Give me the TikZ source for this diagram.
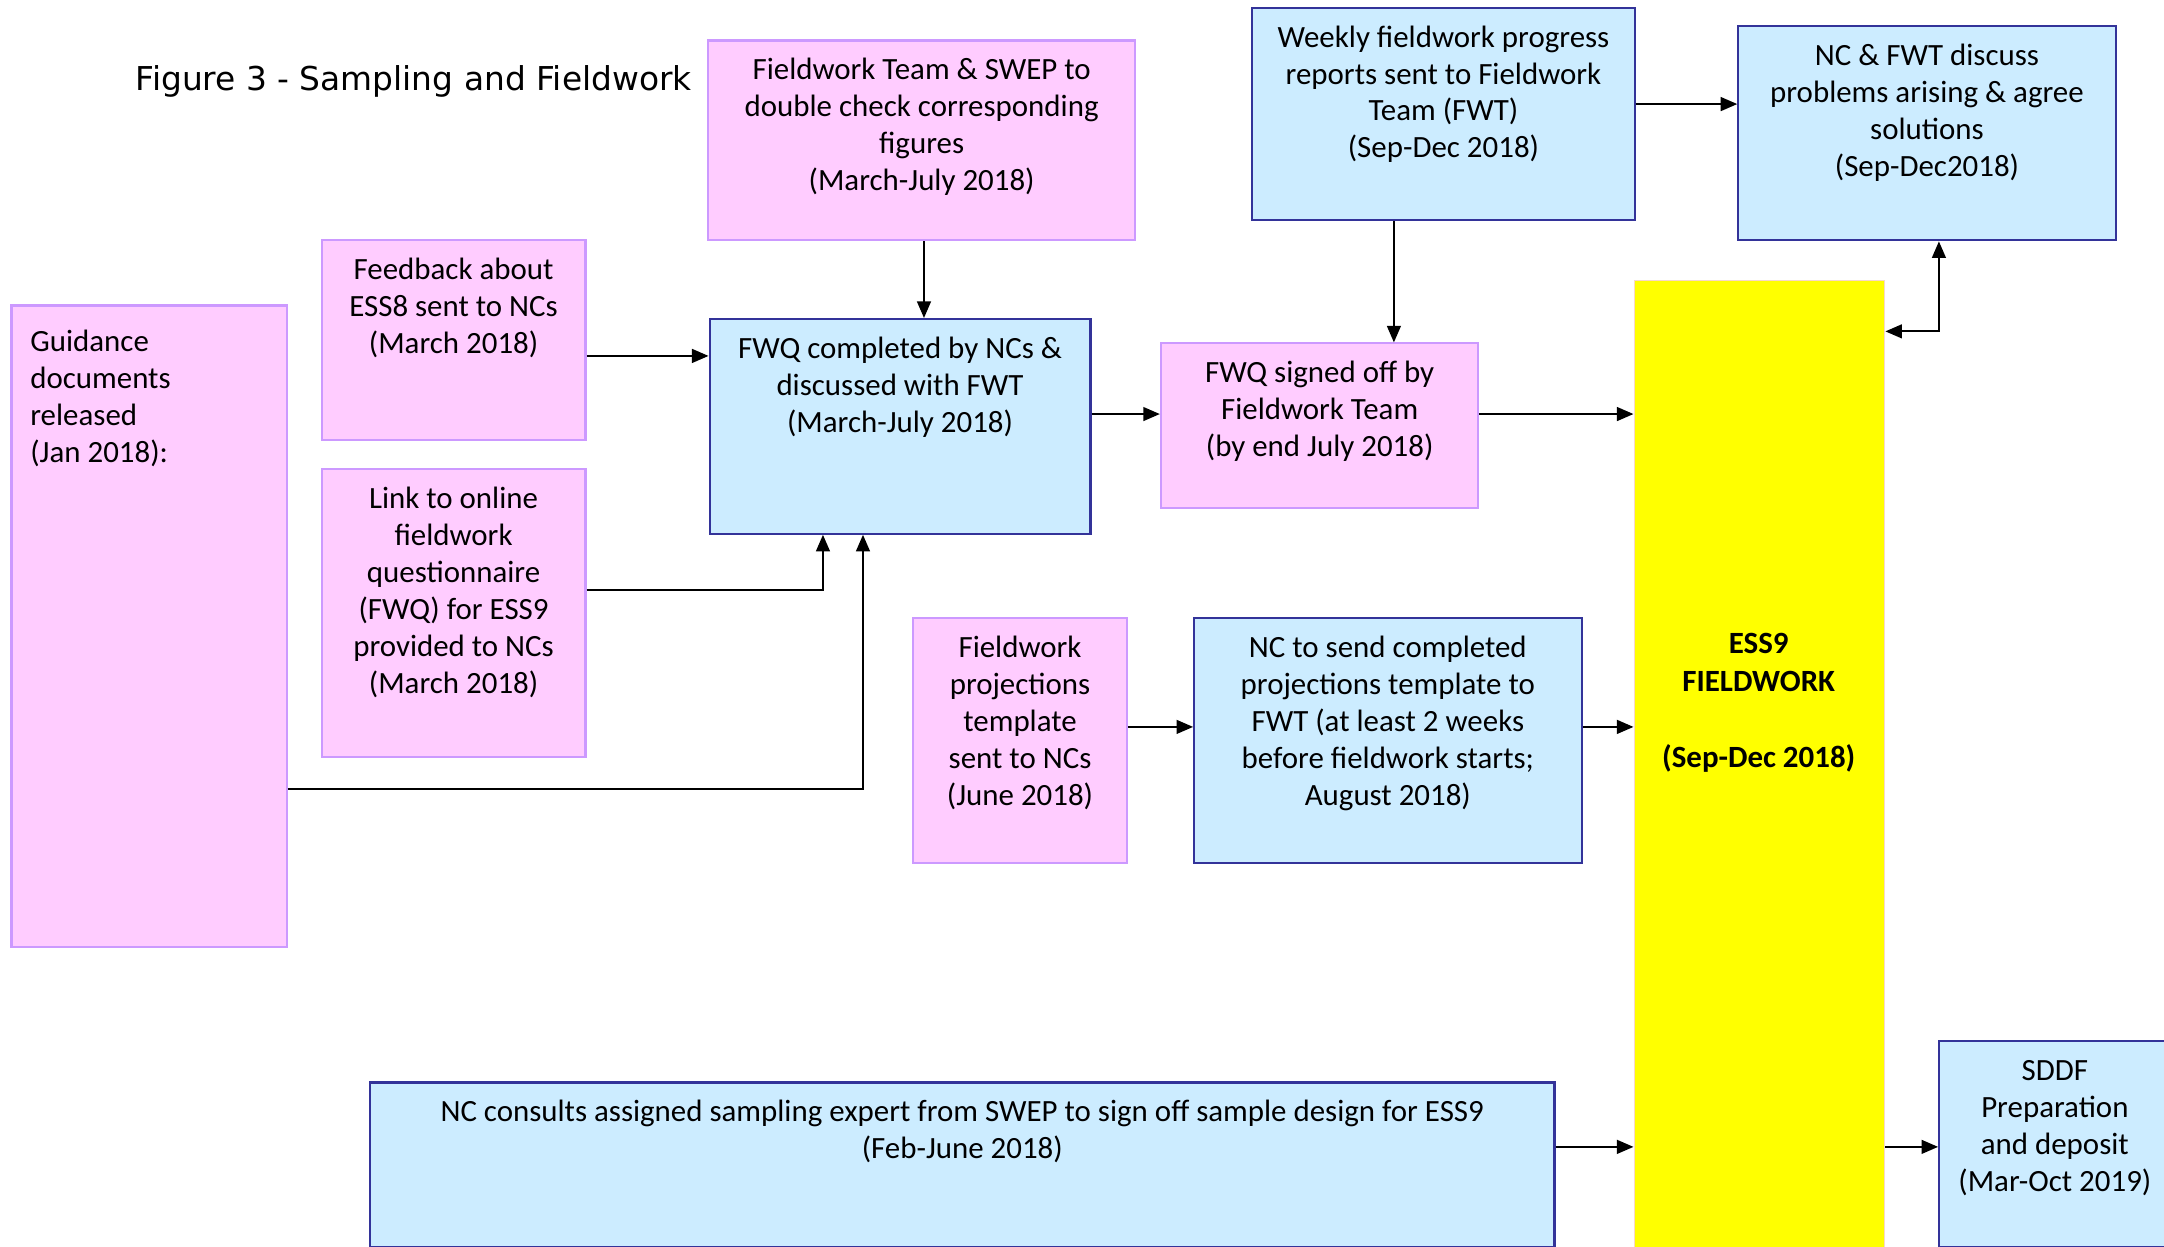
\documentclass[tikz,border=0pt]{standalone}
\usepackage{fontspec}
\setmainfont{Carlito}
\newfontfamily\titlefont{DejaVu Sans}
\usetikzlibrary{arrows.meta,calc}
\definecolor{pinkfill}{HTML}{FFCCFF}
\definecolor{pinkline}{HTML}{CC99FF}
\definecolor{bluefill}{HTML}{CCECFF}
\definecolor{blueline}{HTML}{333399}
\definecolor{yelfill}{HTML}{FFFF00}
\definecolor{yelline}{HTML}{F8D8C8}
\begin{document}
\begin{tikzpicture}[x=1pt,y=-1pt,
  box/.style={rectangle, inner sep=0pt, line width=1.5pt, anchor=north west},
  pinkbox/.style={box, draw=pinkline, fill=pinkfill},
  bluebox/.style={box, draw=blueline, fill=bluefill},
  yelbox/.style={box, draw=yelline, fill=yelfill, line width=1pt},
  txt/.style={inner sep=0pt, align=center, anchor=north, font=\fontsize{22.4}{26.8}\selectfont},
  arr/.style={-{Triangle[length=12pt,width=10pt]}, line width=1.4pt},
  arrtwo/.style={{Triangle[length=12pt,width=10pt]}-{Triangle[length=12pt,width=10pt]}, line width=1.4pt},
]
\useasboundingbox (0,0) rectangle (1568,903);

% title
\node[inner sep=0pt, anchor=base west, font=\titlefont\fontsize{23.8}{28}\selectfont] (title) at (98,65.7) {Figure 3 - Sampling and Fieldwork};

% boxes
\node[pinkbox, minimum width=199.3pt, minimum height=464.9pt] (guid) at (7.6,220.6) {};
\node[pinkbox, minimum width=191.2pt, minimum height=145.2pt] (feed) at (232.3,173.1) {};
\node[pinkbox, minimum width=191.2pt, minimum height=208.6pt] (link) at (232.3,339) {};
\node[pinkbox, minimum width=309.3pt, minimum height=144.8pt] (swep) at (512.4,28.6) {};
\node[bluebox, minimum width=276pt, minimum height=155.6pt] (fwq) at (513.4,230.4) {};
\node[pinkbox, minimum width=230.1pt, minimum height=118.9pt] (signed) at (840.4,248.1) {};
\node[bluebox, minimum width=276.9pt, minimum height=153.6pt] (weekly) at (906.7,4.9) {};
\node[bluebox, minimum width=273.4pt, minimum height=155.1pt] (disc) at (1258.8,18.3) {};
\node[yelbox, minimum width=181.5pt, minimum height=702pt] (ess) at (1183.6,202.9) {};
\node[pinkbox, minimum width=154.9pt, minimum height=177.6pt] (proj) at (660.9,447) {};
\node[bluebox, minimum width=280.7pt, minimum height=177.3pt] (send) at (864.5,447.3) {};
\node[bluebox, minimum width=858.2pt, minimum height=118.9pt] (cons) at (267.4,783.6) {};
\node[bluebox, minimum width=167.7pt, minimum height=148.9pt] (sddf) at (1404.3,753.6) {};

% texts
\node[txt, align=left, anchor=north west] (guid-t) at (21.8,235.6) {\strut Guidance\\documents\\released\\(Jan 2018):};
\node[txt] (feed-t) at ($(feed.north)+(0,10.2)$) {\strut Feedback about\\ESS8 sent to NCs\\(March 2018)};
\node[txt] (link-t) at ($(link.north)+(0,10.2)$) {\strut Link to online\\fieldwork\\questionnaire\\(FWQ) for ESS9\\provided to NCs\\(March 2018)};
\node[txt] (swep-t) at ($(swep.north)+(0,10.2)$) {\strut Fieldwork Team \& SWEP to\\double check corresponding\\figures\\(March-July 2018)};
\node[txt] (fwq-t) at ($(fwq.north)+(0,10.2)$) {\strut FWQ completed by NCs \&\\discussed with FWT\\(March-July 2018)};
\node[txt] (signed-t) at ($(signed.north)+(0,10.2)$) {\strut FWQ signed off by\\Fieldwork Team\\(by end July 2018)};
\node[txt] (weekly-t) at ($(weekly.north)+(0,10.2)$) {\strut Weekly fieldwork progress\\reports sent to Fieldwork\\Team (FWT)\\(Sep-Dec 2018)};
\node[txt] (disc-t) at ($(disc.north)+(0,10.2)$) {\strut NC \& FWT discuss\\problems arising \& agree\\solutions\\(Sep-Dec2018)};
\node[txt, font=\fontsize{22.4}{27.4}\selectfont\bfseries] (ess-t) at (1274.35,454.4) {\strut ESS9\\FIELDWORK\\\mbox{}\\(Sep-Dec 2018)};
\node[txt] (proj-t) at ($(proj.north)+(0,10.2)$) {\strut Fieldwork\\projections\\template\\sent to NCs\\(June 2018)};
\node[txt] (send-t) at ($(send.north)+(0,10.2)$) {\strut NC to send completed\\projections template to\\FWT (at least 2 weeks\\before fieldwork starts;\\August 2018)};
\node[txt] (cons-t) at ($(cons.north)+(0,10.2)$) {\strut NC consults assigned sampling expert from SWEP to sign off sample design for ESS9\\(Feb-June 2018)};
\node[txt] (sddf-t) at ($(sddf.north)+(0,10.2)$) {\strut SDDF\\Preparation\\and deposit\\(Mar-Oct 2019)};

% helper coordinates
\coordinate (r1) at (0,257.9);
\coordinate (r2) at (0,427.8);
\coordinate (r3) at (0,571.5);
\coordinate (r4) at (0,300);
\coordinate (r5) at (0,75.4);
\coordinate (r6) at (0,240.1);
\coordinate (r7) at (0,526.7);
\coordinate (r8) at (0,831);
\coordinate (c1) at (669.5,0);
\coordinate (c2) at (596.3,0);
\coordinate (c3) at (625.3,0);
\coordinate (c4) at (1010,0);
\coordinate (c5) at (1404.9,0);

% connectors
\draw[arr] (feed.east |- r1) -- (fwq.west |- r1);
\draw[arr] (swep.south -| c1) -- (fwq.north -| c1);
\draw[arr] (link.east |- r2) -| (fwq.south -| c2);
\draw[arr] (guid.east |- r3) -| (fwq.south -| c3);
\draw[arr] (fwq.east |- r4) -- (signed.west |- r4);
\draw[arr] (weekly.south -| c4) -- (signed.north -| c4);
\draw[arr] (signed.east |- r4) -- (ess.west |- r4);
\draw[arr] (weekly.east |- r5) -- (disc.west |- r5);
\draw[arrtwo] (ess.east |- r6) -| (disc.south -| c5);
\draw[arr] (proj.east |- r7) -- (send.west |- r7);
\draw[arr] (send.east |- r7) -- (ess.west |- r7);
\draw[arr] (cons.east |- r8) -- (ess.west |- r8);
\draw[arr] (ess.east |- r8) -- (sddf.west |- r8);
\end{tikzpicture}
\end{document}
